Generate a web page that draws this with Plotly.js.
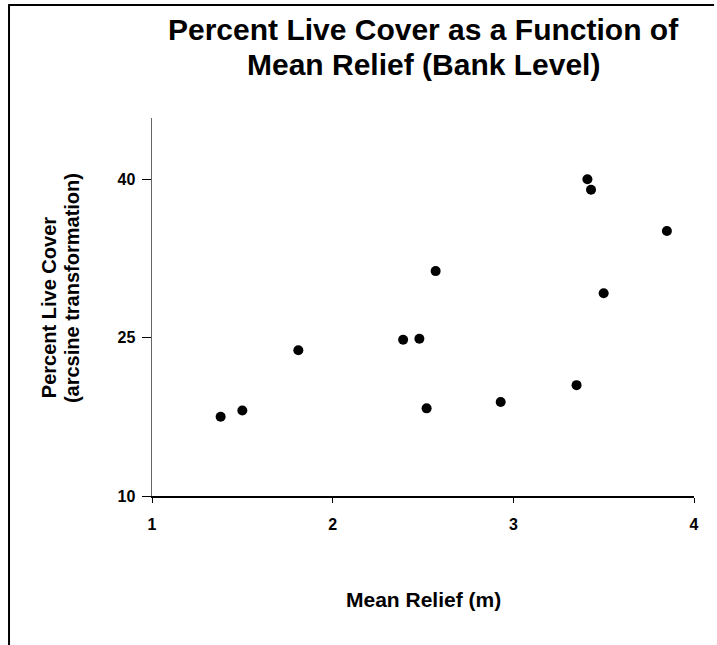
<!DOCTYPE html>
<html>
<head>
<meta charset="utf-8">
<script src="https://cdn.plot.ly/plotly-3.0.1.min.js"></script>
<style>html,body{margin:0;padding:0;background:#fff;}#chart{width:717px;height:645px;}</style>
</head>
<body>
<div id="chart"></div>
<script>
var meanRelief = [1.38, 1.50, 1.81, 2.39, 2.48, 2.52, 2.57, 2.93, 3.35, 3.41, 3.43, 3.50, 3.85];
var liveCover  = [17.5, 18.1, 23.8, 24.8, 24.9, 18.3, 31.3, 18.9, 20.5, 40.0, 39.0, 29.2, 35.1];
var yTicks = [10, 25, 40];
var xTicks = [1, 2, 3, 4];
var titleLines = ['Percent Live Cover as a Function of', 'Mean Relief (Bank Level)'];
var yTitleLines = ['Percent Live Cover', '(arcsine transformation)'];
var xTitle = 'Mean Relief (m)';

var F = 'Liberation Sans, Arial, Helvetica, sans-serif';

var trace = {
  x: meanRelief, y: liveCover, type: 'scatter', mode: 'markers',
  marker: {color: '#000', size: 10}, cliponaxis: false, hoverinfo: 'skip'
};

function ann(text, x, y, size, angle) {
  return {
    text: '<b>' + text + '</b>', xref: 'paper', yref: 'paper', x: x, y: y,
    xanchor: 'center', yanchor: 'middle', showarrow: false, textangle: angle || 0,
    font: {family: F, size: size, color: '#000'}
  };
}

var layout = {
  width: 717, height: 645,
  paper_bgcolor: '#fff', plot_bgcolor: '#fff',
  margin: {l: 152, r: 23, t: 118, b: 149, pad: 0},
  showlegend: false,
  xaxis: {
    range: [1, 4], tickvals: xTicks, ticktext: xTicks.map(function(v){return '<b>' + v + '</b>';}),
    showgrid: false, zeroline: false, showline: true, linecolor: '#000', linewidth: 1.5,
    ticks: 'outside', ticklen: 5, tickcolor: '#000', tickwidth: 1,
    tickfont: {family: F, size: 16, color: '#000'},
    ticklabelstandoff: 8
  },
  yaxis: {
    range: [10, 45.8], tickvals: yTicks, ticktext: yTicks.map(function(v){return '<b>' + v + '</b>';}),
    showgrid: false, zeroline: false, showline: true, linecolor: '#666', linewidth: 1.5,
    ticks: 'outside', ticklen: 9, tickcolor: '#000', tickwidth: 1,
    tickfont: {family: F, size: 16, color: '#000'},
    ticklabelstandoff: 3
  },
  annotations: [
    ann(titleLines[0], 0.5, 1.235, 30),
    ann(titleLines[1], 0.5, 1.1426, 30),
    ann(xTitle, 0.5, -0.275, 21),
    ann(yTitleLines[0], -0.1900, 0.497, 20, -90),
    ann(yTitleLines[1], -0.1476, 0.550, 20, -90)
  ],
  shapes: [
    {type: 'line', xref: 'paper', yref: 'paper', x0: -0.2638, x1: -0.2638, y0: 1.299, y1: -0.42,
     line: {color: '#000', width: 2}},
    {type: 'line', xref: 'paper', yref: 'paper', x0: -0.2655, x1: 1.037, y0: 1.299, y1: 1.299,
     line: {color: '#000', width: 2}}
  ]
};

Plotly.newPlot('chart', [trace], layout, {displayModeBar: false, staticPlot: true});
</script>
</body>
</html>
